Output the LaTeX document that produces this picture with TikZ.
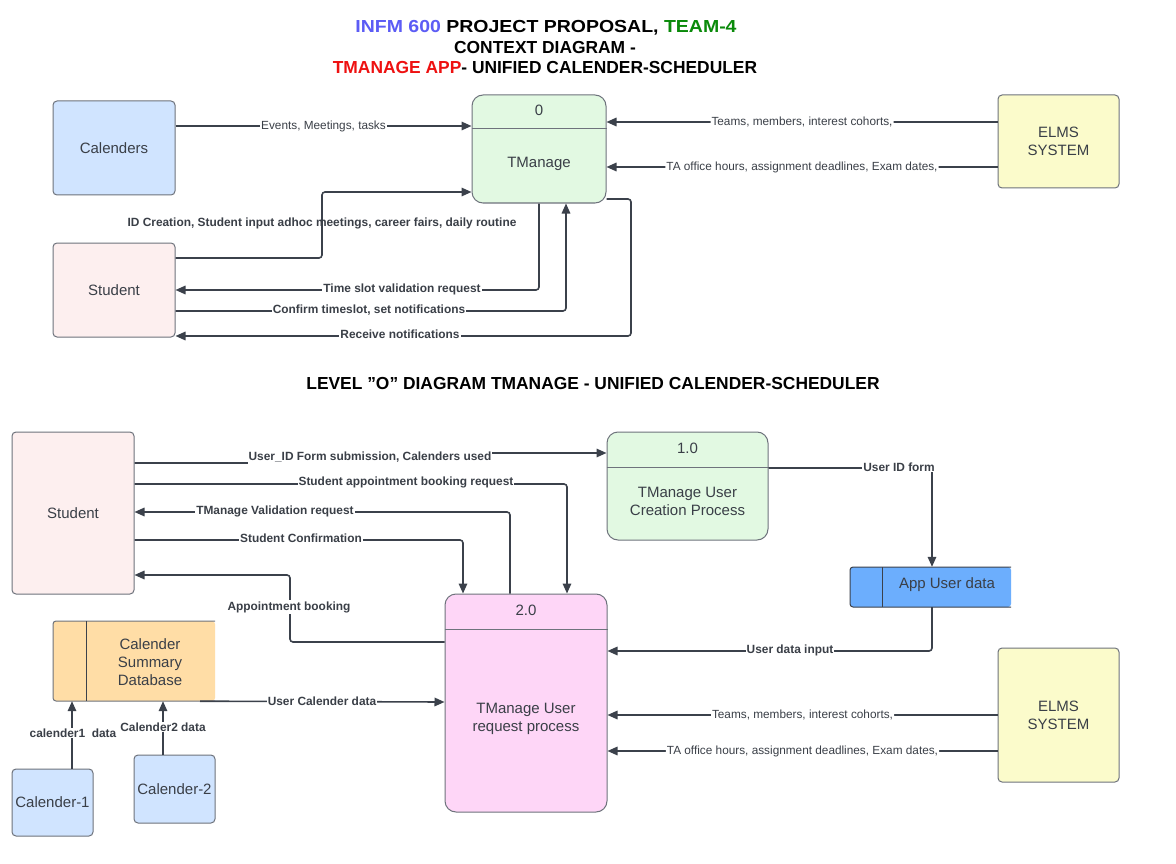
\documentclass[tikz,border=0pt]{standalone}
\usepackage{fontspec}
\setmainfont{Liberation Sans}
\usetikzlibrary{arrows.meta}
\definecolor{ln}{HTML}{3B414B}
\definecolor{bx}{HTML}{6E737C}
\definecolor{txt}{HTML}{3A3F47}
\definecolor{cblue}{HTML}{D0E4FF}
\definecolor{cgreen}{HTML}{E2F9E2}
\definecolor{cyellow}{HTML}{FBFBCB}
\definecolor{cpink}{HTML}{FDEFEF}
\definecolor{cmag}{HTML}{FED6F7}
\definecolor{cstore}{HTML}{6CAEFD}
\definecolor{corange}{HTML}{FFDDA6}
\definecolor{tblue}{HTML}{5C5CF5}
\definecolor{tgreen}{HTML}{0A8A0A}
\definecolor{tred}{HTML}{EE1111}
\begin{document}
\begin{tikzpicture}[x=1pt,y=-1pt,
  box/.style={draw=bx, line width=1pt, rounded corners=4pt, text=txt, align=center, inner sep=0pt,
    font=\fontsize{15}{18}\selectfont},
  proc/.style={box, rounded corners=11pt},
  ptxt/.style={text=txt, align=center, inner sep=0pt, font=\fontsize{15}{18}\selectfont},
  flow/.style={draw=ln, line width=1.6pt, rounded corners=3pt, -{Triangle[length=10pt,width=8.5pt]}},
  lbl/.style={fill=white, inner sep=1pt, text=txt, font=\bfseries\fontsize{11.9}{13}\selectfont},
  lbln/.style={fill=white, inner sep=1pt, text=txt, font=\fontsize{11.8}{13}\selectfont},
  ttl/.style={inner sep=0pt, font=\bfseries\fontsize{17.4}{20}\selectfont}]
\useasboundingbox (0,0) rectangle (1176,864);
\fill[white] (0,0) rectangle (1176,864);

% titles
\node[ttl] (t1) at (546,28) {\scalebox{1.12}[1]{\textcolor{tblue}{INFM 600} PROJECT PROPOSAL, \textcolor{tgreen}{TEAM-4}}};
\node[ttl] (t2) at (545,48) {CONTEXT DIAGRAM -};
\node[ttl] (t3) at (545,68) {\textcolor{tred}{TMANAGE APP}- UNIFIED CALENDER-SCHEDULER};
\node[ttl] (t4) at (593,384) {LEVEL "O" DIAGRAM TMANAGE - UNIFIED CALENDER-SCHEDULER};

% ---------- context diagram ----------
\node[box, fill=cblue, minimum width=122pt, minimum height=94pt] (cal) at (114,148) {Calenders};
\node[box, fill=cpink, minimum width=122pt, minimum height=94pt] (stu) at (114,290) {Student};
\node[box, fill=cyellow, minimum width=121pt, minimum height=93pt] (elms) at (1058.5,141.5) {ELMS\\SYSTEM};
\node[proc, fill=cgreen, minimum width=134pt, minimum height=108pt] (p0) at (539,149) {};
\draw[bx, line width=1pt] (p0.west |- 0,129) -- (p0.east |- 0,129);
\node[ptxt] (p0n) at (539,110) {0};
\node[ptxt] (p0t) at (539,164) {TManage};

\draw[flow] (cal.east |- 0,126) -- (p0.west |- 0,126) node[lbln, midway] {Events, Meetings, tasks};
\draw[flow] (elms.west |- 0,122) -- (p0.east |- 0,122) node[lbln, midway] {Teams, members, interest cohorts,};
\draw[flow] (elms.west |- 0,167) -- (p0.east |- 0,167) node[lbln, midway] {TA office hours, assignment deadlines, Exam dates,};
\draw[flow] (stu.east |- 0,258) -| (322,192) -- (p0.west |- 0,192);
\node[lbl, fill=none] (l1) at (322,223) {ID Creation, Student input adhoc meetings, career fairs, daily routine};
\draw[flow] (p0.south) |- (stu.east |- 0,290);
\node[lbl] (l2) at (402,289) {Time slot validation request};
\draw[flow] (stu.east |- 0,311) -| (p0.south -| 566,0);
\node[lbl] (l3) at (369,310) {Confirm timeslot, set notifications};
\draw[flow] (p0.east |- 0,199) -- (631,199) |- (stu.east |- 0,336);
\node[lbl] (l4) at (400,334) {Receive notifications};

% ---------- level 0 diagram ----------
\node[box, fill=cpink, minimum width=122pt, minimum height=162pt] (stu2) at (73,513) {Student};
\node[proc, fill=cgreen, minimum width=161pt, minimum height=108pt] (p1) at (687.5,486) {};
\draw[bx, line width=1pt] (p1.west |- 0,467) -- (p1.east |- 0,467);
\node[ptxt] (p1n) at (687.5,448) {1.0};
\node[ptxt] (p1t) at (687.5,501) {TManage User\\Creation Process};

\node[proc, fill=cmag, minimum width=162pt, minimum height=218pt] (p2) at (526,703) {};
\draw[bx, line width=1pt] (p2.west |- 0,629) -- (p2.east |- 0,629);
\node[ptxt] (p2n) at (526,610) {2.0};
\node[ptxt] (p2t) at (526,719) {TManage User\\request process};

\node[box, fill=cyellow, minimum width=121pt, minimum height=134pt] (elms2) at (1058.5,715) {ELMS\\SYSTEM};

% data store: app user data
\fill[cstore, rounded corners=3pt] (850,567) rectangle (1011,607);
\draw[ln, line width=1pt, rounded corners=3pt] (1011,567) -- (850,567) -- (850,607) -- (1011,607);
\draw[ln, line width=1pt] (882,567) -- (882,607);
\node[inner sep=0pt, minimum width=161pt, minimum height=40pt] (ds) at (930.5,587) {};
\node[ptxt] (dst) at (947,585) {App User data};

% data store: calender summary database
\fill[corange, rounded corners=3pt] (53,621) rectangle (215,701);
\draw[bx, line width=1pt, rounded corners=3pt] (215,621) -- (53,621) -- (53,701) -- (215,701);
\draw[ln, line width=1pt] (86,621) -- (86,701);
\node[inner sep=0pt, minimum width=162pt, minimum height=80pt] (db) at (134,661) {};
\node[ptxt] (dbt) at (150,662) {Calender\\Summary\\Database};

\node[box, fill=cblue, minimum width=81pt, minimum height=67pt] (c1) at (52.5,802.5) {Calender-1};
\node[box, fill=cblue, minimum width=81pt, minimum height=68pt] (c2) at (174.5,789) {Calender-2};

% flows
\draw[flow] (stu2.east |- 0,463) -- (370,463) -- (370,453) -- (p1.west |- 0,453);
\node[lbl, inner ysep=4pt] (m1) at (370,457) {User\_ID Form submission, Calenders used};
\draw[flow] (stu2.east |- 0,484) -| (p2.north -| 567,0);
\node[lbl] (m2) at (406,482) {Student appointment booking request};
\draw[flow] (p2.north -| 510,0) |- (stu2.east |- 0,512);
\node[lbl] (m3) at (275,511) {TManage Validation request};
\draw[flow] (stu2.east |- 0,540) -| (p2.north -| 463,0);
\node[lbl] (m4) at (301,538) {Student Confirmation};
\draw[flow] (p2.west |- 0,642) -| (290,575) -- (stu2.east |- 0,575);
\node[lbl] (m5) at (289,607) {Appointment booking};
\draw[flow] (p1.east |- 0,468) -| (ds.north -| 932,0);
\node[lbl] (m6) at (899,467) {User ID form};
\draw[flow] (ds.south -| 932,0) |- (p2.east |- 0,651);
\node[lbl] (m7) at (790,650) {User data input};
\draw[flow] (db.south -| 200,0) -- (p2.west |- 0,702);
\node[lbl] (m8) at (322,701) {User Calender data};
\draw[flow] (c1.north -| 72,0) -- (db.south -| 72,0);
\node[lbl] (m9) at (73,733) {calender1\ \ data};
\draw[flow] (c2.north -| 163,0) -- (db.south -| 163,0);
\node[lbl] (m10) at (163,727) {Calender2 data};
\draw[flow] (elms2.west |- 0,715) -- (p2.east |- 0,715) node[lbln, midway] {Teams, members, interest cohorts,};
\draw[flow] (elms2.west |- 0,751) -- (p2.east |- 0,751) node[lbln, midway] {TA office hours, assignment deadlines, Exam dates,};
\end{tikzpicture}
\end{document}
